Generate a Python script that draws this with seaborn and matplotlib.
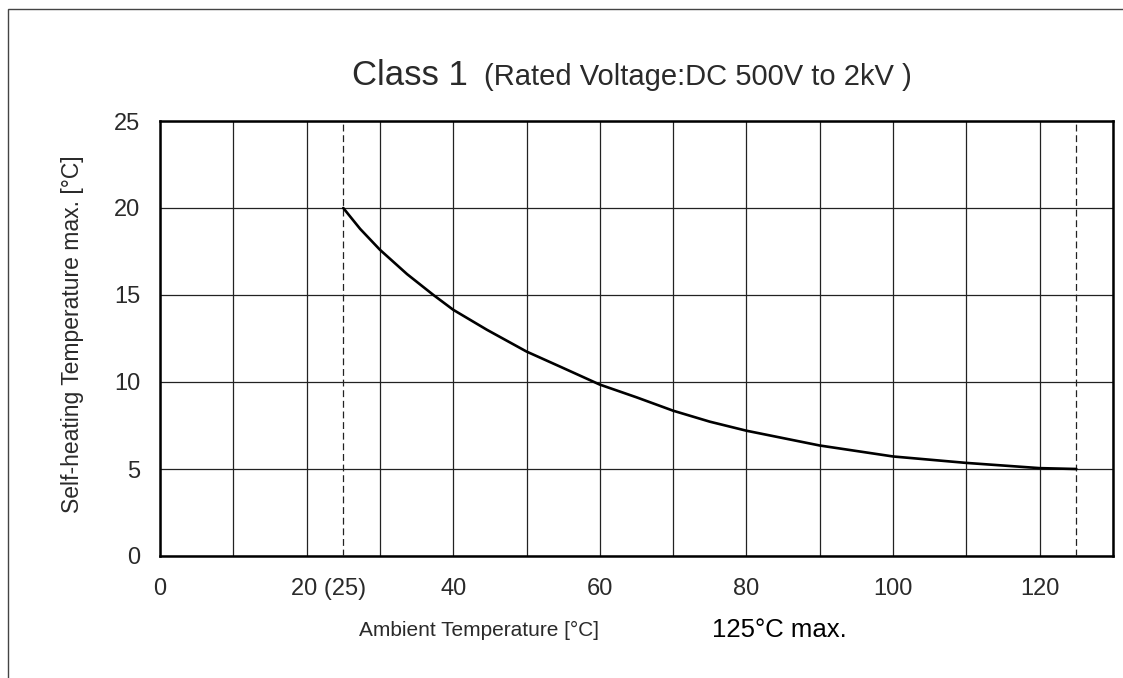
"""Self-heating temperature max. vs ambient temperature (Class 1, DC 500V to 2kV)."""

import matplotlib

matplotlib.use("Agg")

import matplotlib.pyplot as plt
import matplotlib.transforms as mtransforms
import pandas as pd
import seaborn as sns
from matplotlib.patches import Rectangle

# values
amb_temp = [25, 27.3, 30, 33.7, 37.3, 40, 44.6, 50, 54.6, 60, 65, 70, 75, 80,
            90, 100, 110, 120, 125]
self_heat = [20.0, 18.8, 17.6, 16.2, 15.0, 14.15, 13.0, 11.75, 10.88, 9.85,
             9.12, 8.35, 7.72, 7.2, 6.35, 5.72, 5.35, 5.05, 5.0]
limit_temps = [25, 125]
x_ticks = list(range(0, 131, 10))
x_labels = ["0", "", "20 (25)", "", "40", "", "60", "", "80", "", "100", "",
            "120", ""]
y_ticks = [0, 5, 10, 15, 20, 25]

sns.set_style("white")
plt.rcParams["font.family"] = ["Liberation Sans", "DejaVu Sans"]

TXT = "#2a2a2a"

df = pd.DataFrame({"ambient": amb_temp, "self_heating": self_heat})

fig = plt.figure(figsize=(11.23, 6.78), dpi=100)
ax = fig.add_axes([160 / 1123, 1 - 556 / 678, 953 / 1123, 435 / 678])

sns.lineplot(data=df, x="ambient", y="self_heating", sort=False,
             color="black", linewidth=1.9, ax=ax, zorder=5)

for t in limit_temps:
    ax.axvline(t, color="#222222", linewidth=0.9, dashes=(5.5, 3.0), zorder=3)

ax.set_xlim(0, 130)
ax.set_ylim(0, 25)
ax.set_xticks(x_ticks)
ax.set_xticklabels(x_labels)
ax.set_yticks(y_ticks)
ax.grid(True, color="#222222", linewidth=0.9)
ax.set_axisbelow(True)
ax.tick_params(axis="both", length=0, labelsize=17, labelcolor=TXT)
ax.tick_params(axis="x", pad=16)
ax.tick_params(axis="y", pad=14)

# the "20 (25)" label sits a bit right of its tick
for lab in ax.get_xticklabels():
    if lab.get_text() == "20 (25)":
        lab.set_transform(lab.get_transform() + mtransforms.ScaledTranslation(
            22 / 100, 0, fig.dpi_scale_trans))

for side in ["top", "right", "bottom", "left"]:
    ax.spines[side].set_visible(True)
    ax.spines[side].set_color("black")
    ax.spines[side].set_linewidth(1.8)

ax.set_xlabel("Ambient Temperature [°C]", fontsize=15, color=TXT)
ax.xaxis.set_label_coords((479 - 160) / 953, (556 - 630) / 435)
ax.xaxis.label.set_va("center")
ax.set_ylabel("Self-heating Temperature max. [°C]", fontsize=16.5, color=TXT)
ax.yaxis.set_label_coords((73 - 160) / 953, 0.51)
ax.yaxis.label.set_va("center")

ax.text((712 - 160) / 953, (556 - 630) / 435, "125°C max.", fontsize=18.5,
        color="black", ha="left", va="center", transform=ax.transAxes)

fig.text(468 / 1123, 1 - 85 / 678, "Class 1", fontsize=25, color=TXT,
         ha="right", va="baseline")
fig.text(484 / 1123, 1 - 85 / 678, "(Rated Voltage:DC 500V to 2kV )",
         fontsize=21, color=TXT, ha="left", va="baseline")

# outer frame, cut off at right and bottom
fig.add_artist(Rectangle((8 / 1123, -0.1), 1.2, 1.1 - 9 / 678,
                         transform=fig.transFigure, fill=False,
                         edgecolor="#444444", linewidth=1.0))

fig.savefig("out.png", dpi=100)
